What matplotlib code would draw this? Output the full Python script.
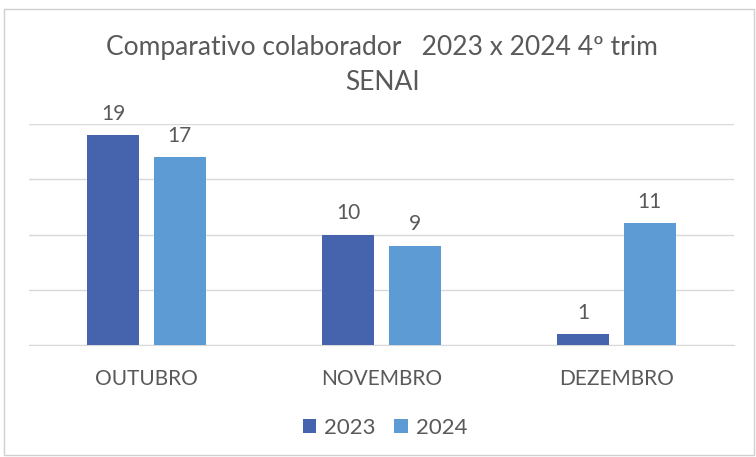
import matplotlib.pyplot as plt
import numpy as np
from matplotlib.patches import Rectangle

# dados do gráfico
meses = ["OUTUBRO", "NOVEMBRO", "DEZEMBRO"]
valores_2023 = [19, 10, 1]
valores_2024 = [17, 9, 11]
series = ["2023", "2024"]

cor_2023 = "#4564AD"
cor_2024 = "#5C9BD4"
cinza = "#595959"

plt.rcParams["font.family"] = ["Lato", "DejaVu Sans"]

fig = plt.figure(figsize=(7.56, 4.57), dpi=100)
W, H = 756, 457

# moldura do gráfico
fig.patches.append(Rectangle((4 / W, 1 - 455 / H), 750 / W, 446 / H, transform=fig.transFigure,
                             fill=False, edgecolor="#D0D0D0", linewidth=1))

# área do gráfico
ax = fig.add_axes([29 / W, 1 - 345 / H, 705 / W, 221 / H])

x = np.arange(len(meses))
largura = 0.221
gap = 0.062
b1 = ax.bar(x - (largura + gap) / 2, valores_2023, largura, color=cor_2023, label=series[0], zorder=3)
b2 = ax.bar(x + (largura + gap) / 2, valores_2024, largura, color=cor_2024, label=series[1], zorder=3)

for barras in (b1, b2):
    ax.bar_label(barras, padding=8, fontsize=15, color=cinza)

ax.set_xlim(-0.5, 2.5)
ax.set_ylim(0, 20)
ax.set_yticks([0, 5, 10, 15, 20])
ax.yaxis.grid(True, color="#D9D9D9", linewidth=1, zorder=0)
ax.set_yticklabels([])
ax.tick_params(axis="y", length=0)
ax.set_xticks(x)
ax.set_xticklabels(meses, fontsize=15, color=cinza)
ax.tick_params(axis="x", length=0, pad=17)
for lado in ["top", "right", "left"]:
    ax.spines[lado].set_visible(False)
ax.spines["bottom"].set_color("#D9D9D9")
ax.set_axisbelow(True)

# título
fig.text(382 / W, 1 - 47 / H, "Comparativo colaborador   2023 x 2024 4º trim", ha="center", va="center",
         fontsize=19, color=cinza)
fig.text(382 / W, 1 - 83 / H, "SENAI", ha="center", va="center", fontsize=19, color=cinza)

# legenda
fig.legend(loc="center", bbox_to_anchor=(385 / W, 1 - 428 / H), ncol=2, frameon=False,
           fontsize=16, labelcolor=cinza, handlelength=0.6, handleheight=0.6,
           handletextpad=0.35, columnspacing=0.85)

plt.savefig("out.png", dpi=100)
